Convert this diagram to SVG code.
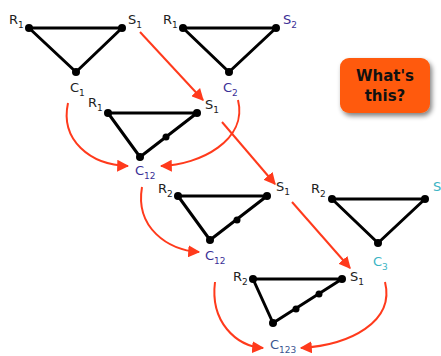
<svg xmlns="http://www.w3.org/2000/svg" width="441" height="356" viewBox="0 0 441 356">
<defs>
<marker id="ah" viewBox="0 0 10 10" refX="9" refY="5" markerWidth="6" markerHeight="6" orient="auto" markerUnits="strokeWidth"><path d="M0,0 L10,5 L0,10 z" fill="#ff3a1c"/></marker>
<filter id="sh" x="-20%" y="-20%" width="150%" height="150%"><feGaussianBlur in="SourceAlpha" stdDeviation="2.5"/><feOffset dx="2" dy="3"/><feComponentTransfer><feFuncA type="linear" slope="0.5"/></feComponentTransfer><feMerge><feMergeNode/><feMergeNode in="SourceGraphic"/></feMerge></filter>
</defs>
<style>
.tri{fill:none;stroke:#000;stroke-width:3;stroke-linejoin:round}
.dot{fill:#000}
.lbl{font-family:"DejaVu Sans",Verdana,sans-serif;font-size:13px;fill:#222}
.sub{font-size:9px}
.b{fill:#3b2f96}
.c{fill:#3a5590}
.t{fill:#3ab4c4}
.arr{fill:none;stroke:#ff3a1c;stroke-width:2;marker-end:url(#ah)}
.q{font-family:"Comic Sans MS","DejaVu Sans",sans-serif;font-size:15px;font-weight:bold;fill:#111}
</style>
<rect width="441" height="356" fill="#fff"/>
<g id="connectors">
<path class="arr" d="M140,32 L203,100"/>
<path class="arr" d="M222,122 L275,184"/>
<path class="arr" d="M292,202 L350,268"/>
<path class="arr" d="M68,103 C60,140 90,165 128,166"/>
<path class="arr" d="M238,100 C248,140 200,165 161,166"/>
<path class="arr" d="M142,187 C135,228 168,250 199,252"/>
<path class="arr" d="M215,282 C210,322 236,346 263,348"/>
<path class="arr" d="M385,282 C395,322 350,345 301,348"/>
</g>
<g id="t1">
<path class="tri" d="M29,28 L122,28 L76,72 Z"/>
<circle class="dot" cx="29" cy="28" r="4"/><circle class="dot" cx="122" cy="28" r="4"/><circle class="dot" cx="76" cy="72" r="4"/>
<text class="lbl" x="9" y="24">R<tspan class="sub" dy="4">1</tspan></text>
<text class="lbl" x="128" y="24">S<tspan class="sub" dy="4">1</tspan></text>
<text class="lbl" x="70" y="92">C<tspan class="sub" dy="4">1</tspan></text>
</g>
<g id="t2">
<path class="tri" d="M183,28 L276,28 L229,72 Z"/>
<circle class="dot" cx="183" cy="28" r="4"/><circle class="dot" cx="276" cy="28" r="4"/><circle class="dot" cx="229" cy="72" r="4"/>
<text class="lbl" x="163" y="24">R<tspan class="sub" dy="4">1</tspan></text>
<text class="lbl b" x="283" y="24">S<tspan class="sub" dy="4">2</tspan></text>
<text class="lbl b" x="223" y="92">C<tspan class="sub" dy="4">2</tspan></text>
</g>
<g id="t3">
<path class="tri" d="M108,113 L197,113 L140,157 Z"/>
<circle class="dot" cx="108" cy="113" r="4"/><circle class="dot" cx="197" cy="113" r="4"/><circle class="dot" cx="140" cy="157" r="4"/><circle class="dot" cx="166" cy="137" r="3.5"/>
<text class="lbl" x="88" y="107">R<tspan class="sub" dy="4">1</tspan></text>
<text class="lbl" x="205" y="109">S<tspan class="sub" dy="4">1</tspan></text>
<text class="lbl b" x="135" y="175">C<tspan class="sub" dy="4">12</tspan></text>
</g>
<g id="t4">
<path class="tri" d="M178,196 L267,196 L210,240 Z"/>
<circle class="dot" cx="178" cy="196" r="4"/><circle class="dot" cx="267" cy="196" r="4"/><circle class="dot" cx="210" cy="240" r="4"/><circle class="dot" cx="237" cy="220" r="3.5"/>
<text class="lbl" x="158" y="193">R<tspan class="sub" dy="4">2</tspan></text>
<text class="lbl" x="276" y="191">S<tspan class="sub" dy="4">1</tspan></text>
<text class="lbl b" x="205" y="260">C<tspan class="sub" dy="4">12</tspan></text>
</g>
<g id="t5">
<path class="tri" d="M332,199 L425,199 L378,243 Z"/>
<circle class="dot" cx="332" cy="199" r="4"/><circle class="dot" cx="425" cy="199" r="4"/><circle class="dot" cx="378" cy="243" r="4"/>
<text class="lbl" x="311" y="193">R<tspan class="sub" dy="4">2</tspan></text>
<text class="lbl t" x="433" y="191">S</text>
<text class="lbl t" x="373" y="266">C<tspan class="sub" dy="4">3</tspan></text>
</g>
<g id="t6">
<path class="tri" d="M253,279 L342,279 L273,323 Z"/>
<circle class="dot" cx="253" cy="279" r="4"/><circle class="dot" cx="342" cy="279" r="4"/><circle class="dot" cx="273" cy="323" r="4"/><circle class="dot" cx="296" cy="309" r="3.5"/><circle class="dot" cx="319" cy="294" r="3.5"/>
<text class="lbl" x="233" y="281">R<tspan class="sub" dy="4">2</tspan></text>
<text class="lbl" x="350" y="281">S<tspan class="sub" dy="4">1</tspan></text>
<text class="lbl c" x="270" y="349">C<tspan class="sub" dy="4">123</tspan></text>
</g>
<g id="whats-this">
<rect x="340" y="58" width="90" height="55" rx="9" fill="#ff5a0a" filter="url(#sh)"/>
<text class="q" x="385" y="81" text-anchor="middle">What's</text>
<text class="q" x="385" y="101" text-anchor="middle">this?</text>
</g>
</svg>
